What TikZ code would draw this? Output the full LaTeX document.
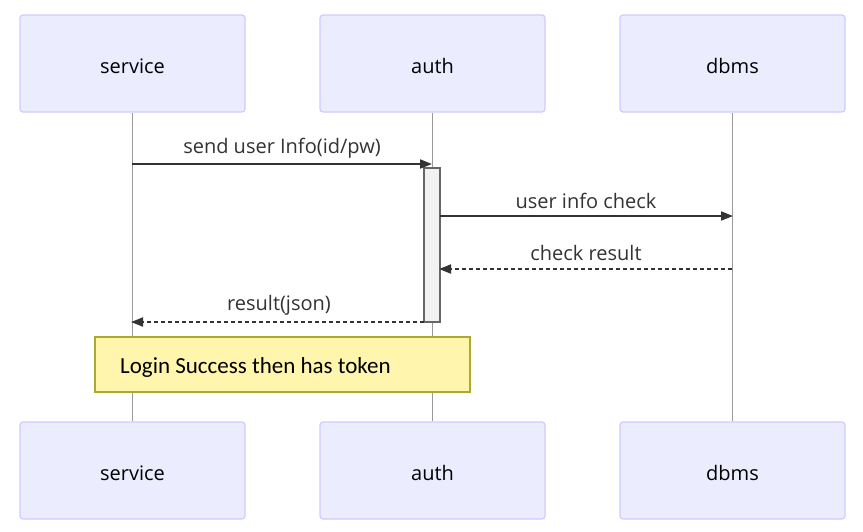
\documentclass[tikz,border=0pt]{standalone}
\usepackage{fontspec}
\setmainfont{Open Sans}
\newfontfamily\notefont{Carlito}
\usetikzlibrary{arrows.meta}
\definecolor{actfill}{HTML}{ECECFF}
\definecolor{actdraw}{HTML}{CCCCFF}
\definecolor{linec}{HTML}{333333}
\definecolor{lifec}{HTML}{999999}
\definecolor{notefill}{HTML}{FFF5AD}
\definecolor{notedraw}{HTML}{AAAA33}
\tikzset{
  actor/.style={draw=actdraw, fill=actfill, line width=1.2pt, rounded corners=3pt,
    minimum width=225pt, minimum height=97pt, inner sep=0pt},
  actortext/.style={font=\fontsize{20}{24}\selectfont, text=black, inner sep=0pt},
  lifeline/.style={draw=lifec, line width=0.8pt},
  msg/.style={draw=linec, line width=1.8pt, -{Triangle[length=12pt,width=9pt]}},
  dmsg/.style={msg, dash pattern=on 4pt off 3pt},
  msglabel/.style={font=\fontsize{20}{24}\selectfont, text=linec, inner sep=0pt},
  activation/.style={draw=black!60, fill=black!5, line width=1.2pt, inner sep=0pt},
  notebox/.style={draw=notedraw, fill=notefill, line width=1.2pt, inner sep=0pt}
}
\begin{document}
\begin{tikzpicture}[x=1pt,y=-1pt]
\useasboundingbox (0,0) rectangle (863,531);
\fill[white] (0,0) rectangle (863,531);
% actors
\node[actor] (s1) at (132.5,63.5) {};
\node[actor] (a1) at (432.5,63.5) {};
\node[actor] (d1) at (732.5,63.5) {};
\node[actor] (s2) at (132.5,470.5) {};
\node[actor] (a2) at (432.5,470.5) {};
\node[actor] (d2) at (732.5,470.5) {};
\node[actortext] (ts1) at (132.5,66) {service};
\node[actortext] (ta1) at (432.5,66) {auth};
\node[actortext] (td1) at (732.5,66) {dbms};
\node[actortext] (ts2) at (132.5,473) {service};
\node[actortext] (ta2) at (432.5,473) {auth};
\node[actortext] (td2) at (732.5,473) {dbms};
% lifelines
\draw[lifeline] (s1.south) -- (s2.north);
\draw[lifeline] (a1.south) -- (a2.north);
\draw[lifeline] (d1.south) -- (d2.north);
% activation
\draw[activation] (424,168) rectangle (440,322);
% message points
\coordinate (m1a) at (132,164);
\coordinate (m1b) at (432,164);
\coordinate (m2a) at (440,216);
\coordinate (m2b) at (733,216);
\coordinate (m3a) at (732,269);
\coordinate (m3b) at (439,269);
\coordinate (m4a) at (424,322);
\coordinate (m4b) at (131,322);
\draw[msg] (m1a) -- (m1b);
\draw[msg] (m2a) -- (m2b);
\draw[dmsg] (m3a) -- (m3b);
\draw[dmsg] (m4a) -- (m4b);
\node[msglabel] (l1) at (282,148) {send user Info(id/pw)};
\node[msglabel] (l2) at (586,201) {user info check};
\node[msglabel] (l3) at (586,253) {check result};
\node[msglabel] (l4) at (279,305) {result(json)};
% note
\draw[notebox] (95,337) rectangle (470,392);
\node[anchor=west, font=\notefont\fontsize{23}{27}\selectfont, text=black, inner sep=0pt] (nt) at (120,367.5) {Login Success then has token};
\end{tikzpicture}
\end{document}
